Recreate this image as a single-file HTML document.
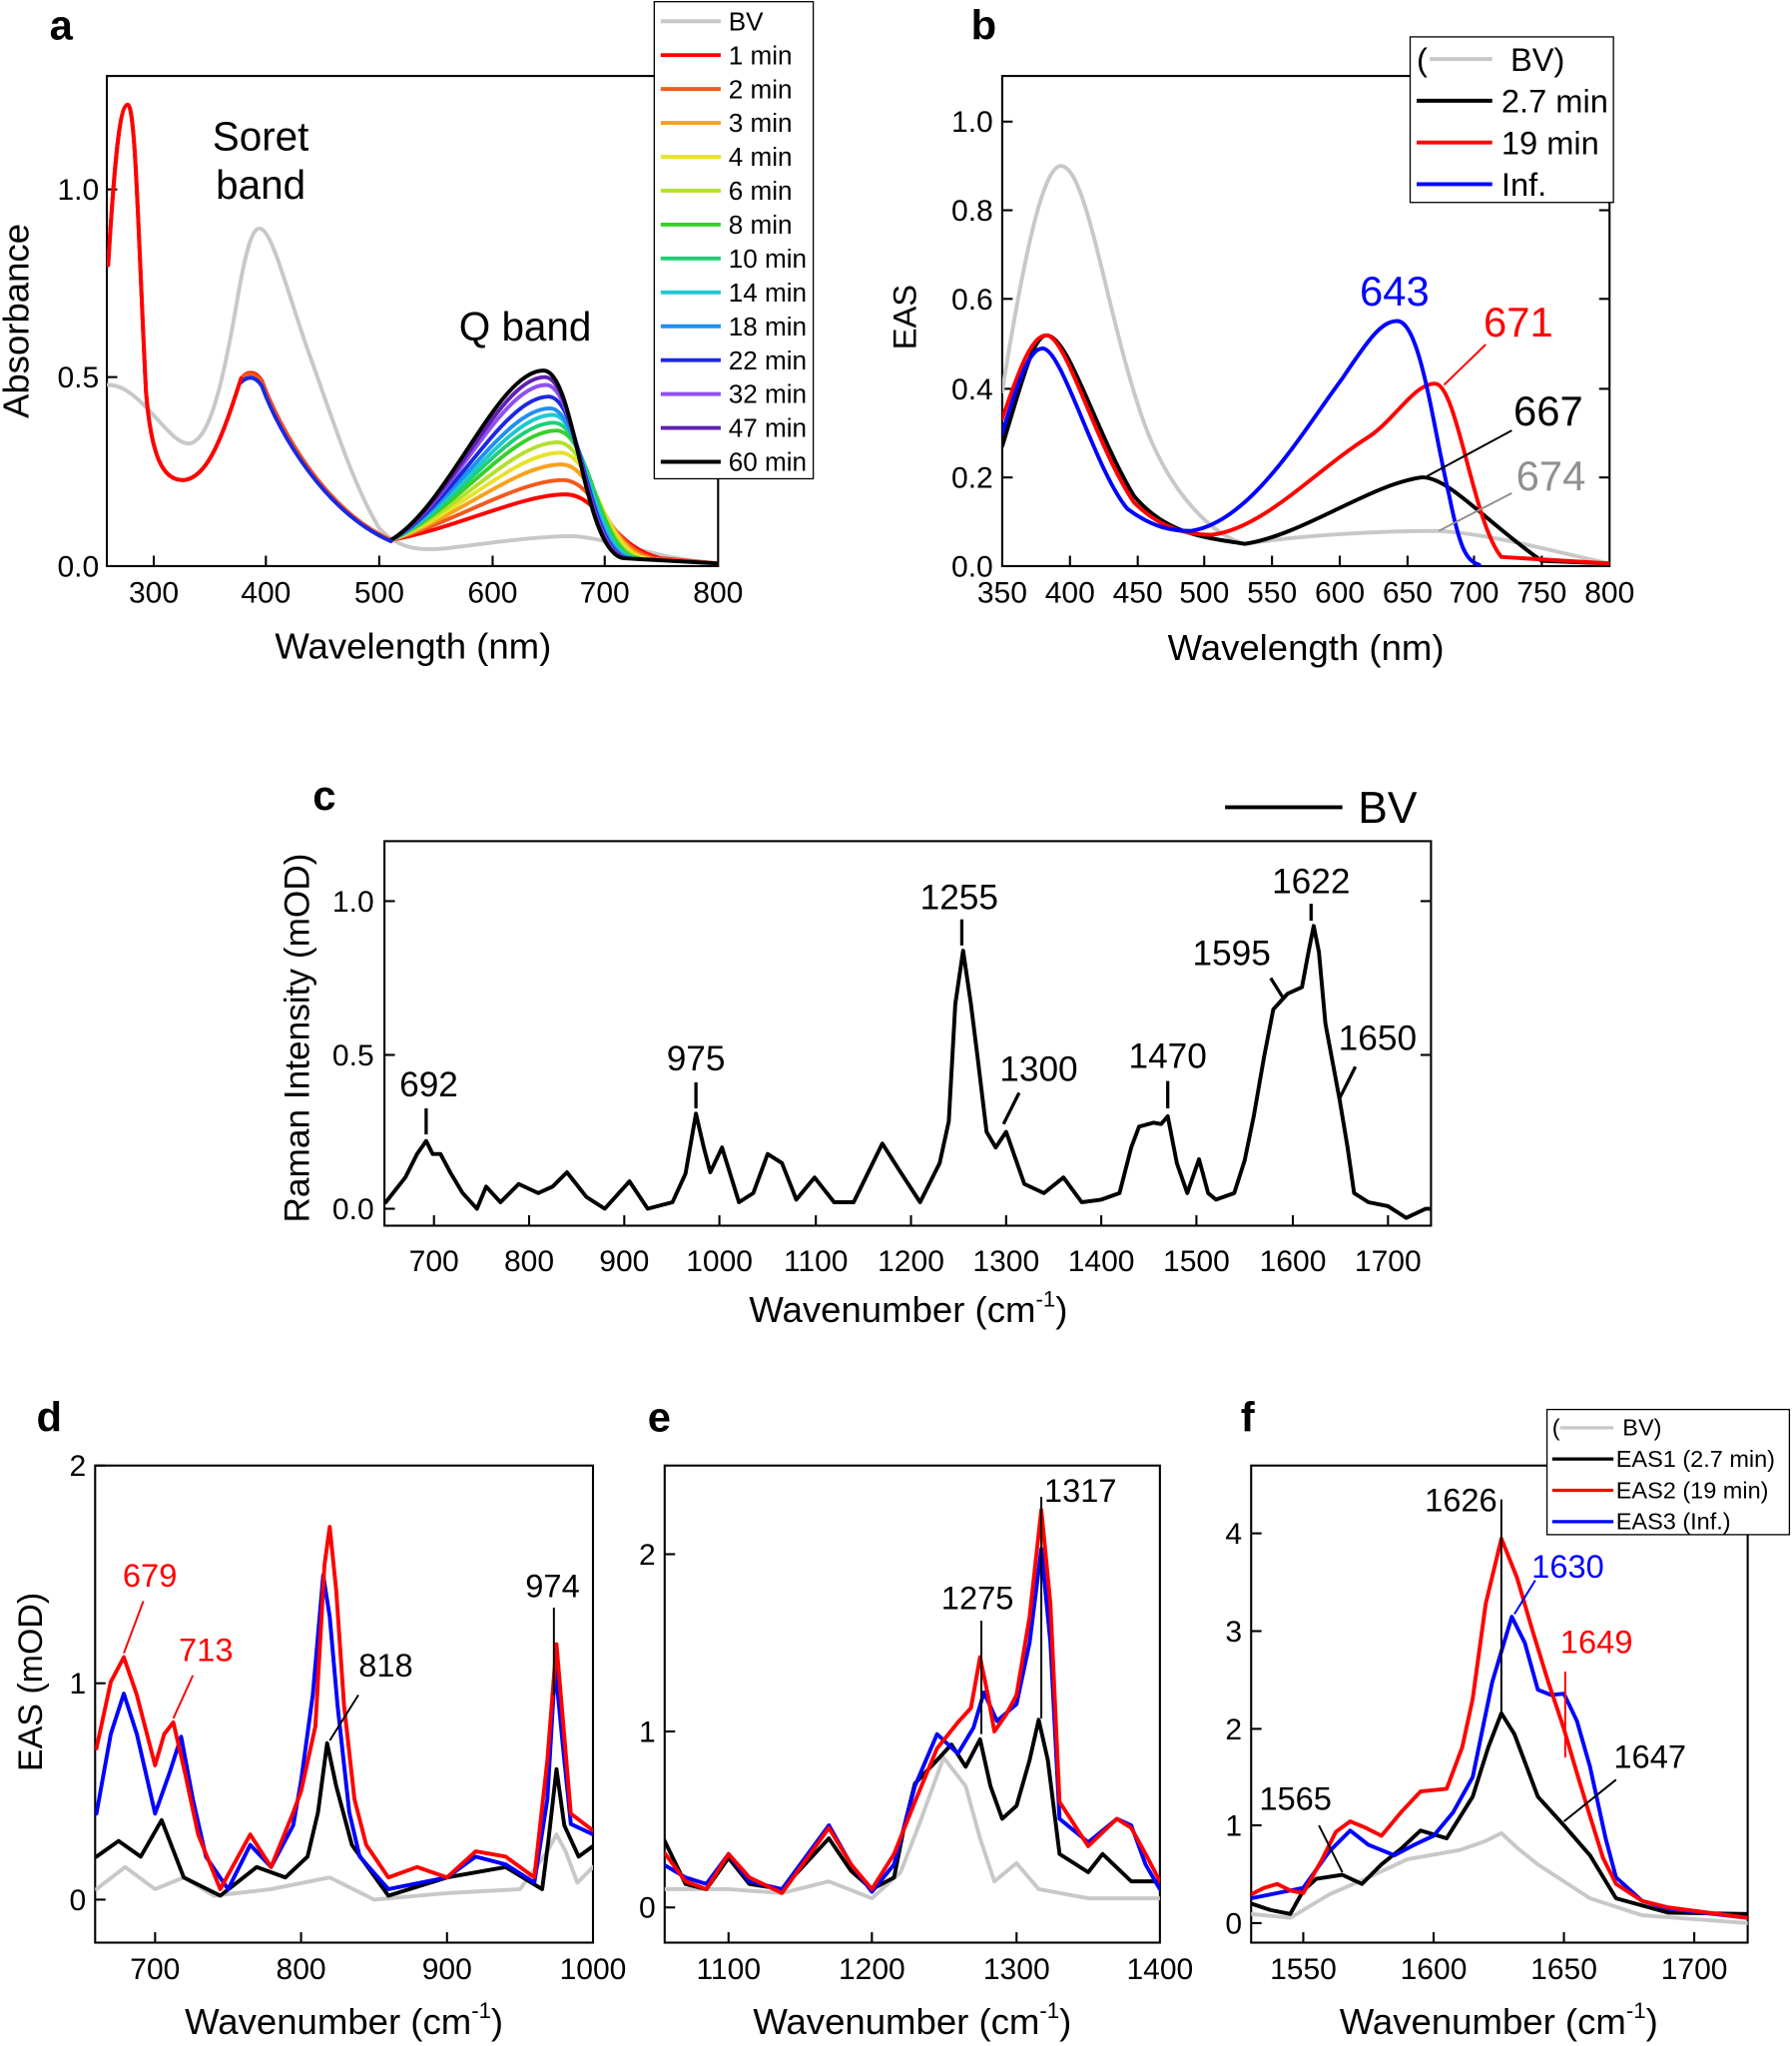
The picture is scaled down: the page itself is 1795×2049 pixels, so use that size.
<!DOCTYPE html>
<html><head><meta charset="utf-8">
<style>
html,body{margin:0;padding:0;background:#fff;}
svg{display:block;}
text{font-family:"Liberation Sans",Arial,sans-serif;}
.t{font-size:23px;fill:#000;}
.al{font-size:28px;fill:#000;}
.pl{font-size:32px;font-weight:bold;}
.ax{fill:none;stroke:#000;stroke-width:1.6;}
.c{fill:none;stroke-width:3;stroke-linejoin:round;stroke-linecap:round;}
</style></head>
<body>
<svg width="1795" height="2049" viewBox="0 0 1375 1569" xmlns="http://www.w3.org/2000/svg">
<rect width="1375" height="1569" fill="#fff"/>
<defs>
<clipPath id="ca"><rect x="82" y="58" width="469" height="376"/></clipPath>
<clipPath id="cb"><rect x="769" y="58" width="466" height="376"/></clipPath>
<clipPath id="cc"><rect x="295" y="645" width="803" height="295"/></clipPath>
<clipPath id="cd"><rect x="73" y="1124" width="382" height="366"/></clipPath>
<clipPath id="ce"><rect x="510" y="1124" width="380" height="366"/></clipPath>
<clipPath id="cf"><rect x="960" y="1124" width="381" height="366"/></clipPath>
</defs>

<!-- ===== Panel a ===== -->
<text class="pl" x="38" y="30">a</text>
<rect class="ax" x="82" y="58" width="469" height="376"/>
<g stroke="#000" stroke-width="1.6">
<line x1="118" y1="434" x2="118" y2="426"/><line x1="204" y1="434" x2="204" y2="426"/><line x1="291" y1="434" x2="291" y2="426"/><line x1="378" y1="434" x2="378" y2="426"/><line x1="464" y1="434" x2="464" y2="426"/>
<line x1="82" y1="289" x2="90" y2="289"/><line x1="82" y1="145" x2="90" y2="145"/>
</g>
<g class="t" text-anchor="middle">
<text x="118" y="462">300</text><text x="204" y="462">400</text><text x="291" y="462">500</text><text x="378" y="462">600</text><text x="464" y="462">700</text><text x="551" y="462">800</text>
</g>
<g class="t" text-anchor="end"><text x="76" y="442">0.0</text><text x="76" y="297">0.5</text><text x="76" y="153">1.0</text></g>
<text class="al" x="317" y="505" text-anchor="middle">Wavelength (nm)</text>
<text class="al" x="22" y="246" text-anchor="middle" transform="rotate(-90 22 246)">Absorbance</text>
<text x="200" y="115" text-anchor="middle" style="font-size:31px">Soret</text>
<text x="200" y="152" text-anchor="middle" style="font-size:31px">band</text>
<text x="403" y="261" text-anchor="middle" style="font-size:31px">Q band</text>
<g clip-path="url(#ca)">
<path class="c" stroke="#c8c8c8" d="M83,295 C90,295 98,298 110,310 C125,325 135,340 145,340 C160,338 170,300 182,230 C188,195 193,175 199,175 C208,175 218,215 235,265 C255,320 270,370 291,405 C305,420 320,423 345,420 C380,416 410,411 440,411 C470,413 500,428 551,432"/>
<path class="c" stroke="#ff0000" d="M83,203 C88,120 92,80 98,80 C104,80 106,180 112,300 C116,350 125,368 140,368 C160,368 172,330 185,290 C190,284 196,284 201,292 C215,330 250,392 300,414 C350,405 400,379 434,379 C460,379 470,420 507,428 L551,432"/>
<path class="c" stroke="#f25a1c" d="M185,290 C190,285 196,285 201,293 C215,331 250,392 300,414 C350,400 398,368 432,368 C458,368 467,420 502,428 L551,432"/>
<path class="c" stroke="#f7a21e" d="M300,414 C350,398 396,356 431,356 C457,356 465,422 498,428"/>
<path class="c" stroke="#e8e22a" d="M300,414 C350,396 395,347 430,347 C456,347 463,423 495,428"/>
<path class="c" stroke="#b4e02a" d="M300,414 C349,395 393,339 428,339 C454,339 461,424 492,428"/>
<path class="c" stroke="#38d028" d="M300,414 C349,393 392,330 427,330 C453,330 459,425 490,428"/>
<path class="c" stroke="#1cd078" d="M300,414 C348,392 390,324 425,324 C451,324 457,425 488,428"/>
<path class="c" stroke="#1ec8d0" d="M300,414 C348,391 389,318 424,318 C449,318 455,425 486,428"/>
<path class="c" stroke="#2090f0" d="M300,414 C347,390 387,313 422,313 C447,313 453,425 484,428"/>
<path class="c" stroke="#1c28e0" d="M300,414 C347,389 386,304 421,304 C446,304 451,425 482,428"/>
<path class="c" stroke="#9050f0" d="M300,414 C346,388 384,295 419,295 C444,295 449,425 481,428"/>
<path class="c" stroke="#6020b0" d="M300,414 C346,388 383,289 418,289 C443,289 448,425 480,428"/>
<path class="c" stroke="#000" d="M300,414 C345,387 382,284 417,284 C442,284 447,425 479,428 L551,432"/>
<path class="c" stroke="#1c28e0" d="M185,293 C190,288 196,288 201,296 C215,334 250,393 300,415"/>
<path class="c" stroke="#ff0000" d="M83,203 C88,120 92,80 98,80 C104,80 106,180 112,300 C116,350 125,368 140,368 C160,368 172,330 185,290"/>
</g>
<!-- legend a -->
<rect x="502" y="1" width="122" height="366" fill="#fff" stroke="#000" stroke-width="1"/>
<g stroke-width="3">
<line x1="507" y1="16" x2="553" y2="16" stroke="#c8c8c8"/>
<line x1="507" y1="42" x2="553" y2="42" stroke="#ff0000"/>
<line x1="507" y1="68" x2="553" y2="68" stroke="#f25a1c"/>
<line x1="507" y1="94" x2="553" y2="94" stroke="#f7a21e"/>
<line x1="507" y1="120" x2="553" y2="120" stroke="#e8e22a"/>
<line x1="507" y1="146" x2="553" y2="146" stroke="#b4e02a"/>
<line x1="507" y1="172" x2="553" y2="172" stroke="#38d028"/>
<line x1="507" y1="198" x2="553" y2="198" stroke="#1cd078"/>
<line x1="507" y1="224" x2="553" y2="224" stroke="#1ec8d0"/>
<line x1="507" y1="250" x2="553" y2="250" stroke="#2090f0"/>
<line x1="507" y1="276" x2="553" y2="276" stroke="#1c28e0"/>
<line x1="507" y1="302" x2="553" y2="302" stroke="#9050f0"/>
<line x1="507" y1="328" x2="553" y2="328" stroke="#6020b0"/>
<line x1="507" y1="354" x2="553" y2="354" stroke="#000"/>
</g>
<g style="font-size:20px">
<text x="559" y="23">BV</text><text x="559" y="49">1 min</text><text x="559" y="75">2 min</text><text x="559" y="101">3 min</text><text x="559" y="127">4 min</text><text x="559" y="153">6 min</text><text x="559" y="179">8 min</text><text x="559" y="205">10 min</text><text x="559" y="231">14 min</text><text x="559" y="257">18 min</text><text x="559" y="283">22 min</text><text x="559" y="309">32 min</text><text x="559" y="335">47 min</text><text x="559" y="361">60 min</text>
</g>

<!-- ===== Panel b ===== -->
<text class="pl" x="745" y="30">b</text>
<rect class="ax" x="769" y="58" width="466" height="376"/>
<g stroke="#000" stroke-width="1.6">
<line x1="821" y1="434" x2="821" y2="426"/><line x1="873" y1="434" x2="873" y2="426"/><line x1="924" y1="434" x2="924" y2="426"/><line x1="976" y1="434" x2="976" y2="426"/><line x1="1028" y1="434" x2="1028" y2="426"/><line x1="1080" y1="434" x2="1080" y2="426"/><line x1="1131" y1="434" x2="1131" y2="426"/><line x1="1183" y1="434" x2="1183" y2="426"/>
<line x1="769" y1="366" x2="777" y2="366"/><line x1="769" y1="298" x2="777" y2="298"/><line x1="769" y1="229" x2="777" y2="229"/><line x1="769" y1="161" x2="777" y2="161"/><line x1="769" y1="93" x2="777" y2="93"/>
<line x1="1235" y1="366" x2="1227" y2="366"/><line x1="1235" y1="298" x2="1227" y2="298"/><line x1="1235" y1="229" x2="1227" y2="229"/><line x1="1235" y1="161" x2="1227" y2="161"/>
</g>
<g class="t" text-anchor="middle">
<text x="769" y="462">350</text><text x="821" y="462">400</text><text x="873" y="462">450</text><text x="924" y="462">500</text><text x="976" y="462">550</text><text x="1028" y="462">600</text><text x="1080" y="462">650</text><text x="1131" y="462">700</text><text x="1183" y="462">750</text><text x="1235" y="462">800</text>
</g>
<g class="t" text-anchor="end"><text x="762" y="442">0.0</text><text x="762" y="374">0.2</text><text x="762" y="306">0.4</text><text x="762" y="237">0.6</text><text x="762" y="169">0.8</text><text x="762" y="101">1.0</text></g>
<text class="al" x="1002" y="506" text-anchor="middle">Wavelength (nm)</text>
<text class="al" x="703" y="243" text-anchor="middle" transform="rotate(-90 703 243)" style="font-size:25px">EAS</text>
<g clip-path="url(#cb)">
<path class="c" stroke="#c8c8c8" d="M769,300 C785,200 800,127 814,127 C835,127 850,250 880,330 C900,380 930,410 955,417 C1000,410 1060,407 1104,407 C1150,410 1200,425 1235,432"/>
<path class="c" stroke="#000" d="M769,342 C785,290 793,257 803,257 C820,257 840,330 870,380 C895,410 925,412 955,417 C1000,410 1050,372 1090,366 C1110,364 1140,400 1183,430 L1235,432"/>
<path class="c" stroke="#ff0000" d="M769,321 C783,280 792,257 803,257 C818,257 840,340 870,385 C890,405 910,410 930,410 C970,405 1010,360 1050,335 C1070,322 1085,294 1101,294 C1118,294 1130,400 1152,427 L1235,432"/>
<path class="c" stroke="#0000ff" d="M769,332 C782,290 790,267 800,267 C815,267 840,360 865,390 C885,405 900,407 914,407 C960,400 1000,330 1030,290 C1050,260 1060,246 1072,246 C1090,246 1100,330 1112,380 C1120,420 1125,430 1135,433"/>
</g>
<text x="1070" y="234" text-anchor="middle" fill="#0000ff" style="font-size:32px">643</text>
<text x="1165" y="258" text-anchor="middle" fill="#ff0000" style="font-size:32px">671</text>
<line x1="1108" y1="295" x2="1140" y2="264" stroke="#ff0000" stroke-width="1.5"/>
<text x="1188" y="326" text-anchor="middle" style="font-size:32px">667</text>
<line x1="1095" y1="365" x2="1160" y2="330" stroke="#000" stroke-width="1.5"/>
<text x="1190" y="376" text-anchor="middle" fill="#909090" style="font-size:32px">674</text>
<line x1="1104" y1="407" x2="1160" y2="378" stroke="#909090" stroke-width="1.5"/>
<rect x="1082" y="28" width="156" height="127" fill="#fff" stroke="#000" stroke-width="1"/>
<g stroke-width="3">
<line x1="1097" y1="45" x2="1145" y2="45" stroke="#c8c8c8"/>
<line x1="1087" y1="77" x2="1145" y2="77" stroke="#000"/>
<line x1="1087" y1="109" x2="1145" y2="109" stroke="#ff0000"/>
<line x1="1087" y1="141" x2="1145" y2="141" stroke="#0000ff"/>
</g>
<g style="font-size:25px"><text x="1087" y="54">(</text><text x="1159" y="54">BV)</text><text x="1152" y="86">2.7 min</text><text x="1152" y="118">19 min</text><text x="1152" y="150">Inf.</text></g>

<!-- ===== Panel c ===== -->
<text class="pl" x="240" y="621">c</text>
<line x1="940" y1="619" x2="1030" y2="619" stroke="#000" stroke-width="3"/>
<text x="1042" y="631" style="font-size:34px">BV</text>
<rect class="ax" x="295" y="645" width="803" height="295"/>
<g stroke="#000" stroke-width="1.6">
<line x1="333" y1="940" x2="333" y2="932"/><line x1="406" y1="940" x2="406" y2="932"/><line x1="479" y1="940" x2="479" y2="932"/><line x1="552" y1="940" x2="552" y2="932"/><line x1="626" y1="940" x2="626" y2="932"/><line x1="699" y1="940" x2="699" y2="932"/><line x1="772" y1="940" x2="772" y2="932"/><line x1="845" y1="940" x2="845" y2="932"/><line x1="918" y1="940" x2="918" y2="932"/><line x1="992" y1="940" x2="992" y2="932"/><line x1="1065" y1="940" x2="1065" y2="932"/>
<line x1="295" y1="927" x2="303" y2="927"/><line x1="295" y1="809" x2="303" y2="809"/><line x1="295" y1="691" x2="303" y2="691"/>
<line x1="1098" y1="809" x2="1090" y2="809"/><line x1="1098" y1="691" x2="1090" y2="691"/>
</g>
<g class="t" text-anchor="middle">
<text x="333" y="975">700</text><text x="406" y="975">800</text><text x="479" y="975">900</text><text x="552" y="975">1000</text><text x="626" y="975">1100</text><text x="699" y="975">1200</text><text x="772" y="975">1300</text><text x="845" y="975">1400</text><text x="918" y="975">1500</text><text x="992" y="975">1600</text><text x="1065" y="975">1700</text>
</g>
<g class="t" text-anchor="end"><text x="287" y="935">0.0</text><text x="287" y="817">0.5</text><text x="287" y="699">1.0</text></g>
<text class="al" x="697" y="1014" text-anchor="middle">Wavenumber (cm<tspan dy="-12" style="font-size:17px">-1</tspan><tspan dy="12">)</tspan></text>
<text class="al" x="237" y="796" text-anchor="middle" transform="rotate(-90 237 796)" style="font-size:27px">Raman Intensity (mOD)</text>
<g clip-path="url(#cc)">
<path class="c" stroke="#000" stroke-width="2.6" d="M296,922 L311,903 L320,885 L327,875 L332,885 L338,885 L346,900 L355,915 L366,927 L373,910 L384,922 L398,908 L413,915 L424,910 L435,899 L450,918 L464,927 L483,906 L497,927 L516,922 L526,900 L534,854 L540,880 L545,899 L554,880 L567,922 L578,915 L589,885 L600,892 L611,920 L625,903 L640,922 L655,922 L677,877 L691,899 L706,922 L721,892 L728,860 L733,770 L739,729 L745,770 L750,810 L757,868 L764,880 L772,868 L786,908 L801,915 L816,903 L830,922 L845,920 L859,915 L868,880 L874,864 L885,861 L891,862 L896,856 L903,892 L911,915 L920,889 L927,915 L933,920 L947,915 L955,890 L962,856 L970,810 L977,774 L988,762 L999,757 L1004,730 L1008,710 L1012,730 L1017,785 L1028,844 L1034,880 L1039,915 L1050,922 L1065,925 L1079,934 L1094,927 L1101,927"/>
</g>
<g style="font-size:27px" text-anchor="middle">
<text x="329" y="841">692</text><text x="534" y="821">975</text><text x="736" y="697">1255</text><text x="797" y="829">1300</text><text x="896" y="819">1470</text><text x="945" y="740">1595</text><text x="1006" y="685">1622</text><text x="1057" y="805">1650</text>
</g>
<g stroke="#000" stroke-width="2.5">
<line x1="327" y1="850" x2="327" y2="870"/><line x1="534" y1="830" x2="534" y2="850"/><line x1="738" y1="705" x2="738" y2="725"/><line x1="1006" y1="693" x2="1006" y2="706"/><line x1="896" y1="829" x2="896" y2="850"/>
<line x1="770" y1="862" x2="782" y2="838"/><line x1="985" y1="766" x2="975" y2="750"/><line x1="1028" y1="842" x2="1040" y2="818"/>
</g>

<!-- ===== Panel d ===== -->
<text class="pl" x="28" y="1098">d</text>
<rect class="ax" x="73" y="1124" width="382" height="366"/>
<g stroke="#000" stroke-width="1.6">
<line x1="119" y1="1490" x2="119" y2="1482"/><line x1="231" y1="1490" x2="231" y2="1482"/><line x1="343" y1="1490" x2="343" y2="1482"/>
<line x1="73" y1="1457" x2="81" y2="1457"/><line x1="73" y1="1291" x2="81" y2="1291"/><line x1="73" y1="1124" x2="81" y2="1124"/>
</g>
<g class="t" text-anchor="middle"><text x="119" y="1518">700</text><text x="231" y="1518">800</text><text x="343" y="1518">900</text><text x="455" y="1518">1000</text></g>
<g class="t" text-anchor="end"><text x="66" y="1465">0</text><text x="66" y="1299">1</text><text x="66" y="1132">2</text></g>
<text class="al" x="264" y="1560" text-anchor="middle">Wavenumber (cm<tspan dy="-12" style="font-size:17px">-1</tspan><tspan dy="12">)</tspan></text>
<text class="al" x="32" y="1290" text-anchor="middle" transform="rotate(-90 32 1290)" style="font-size:26px">EAS (mOD)</text>
<g clip-path="url(#cd)">
<path class="c" stroke="#c8c8c8" d="M74,1449 L96,1432 L119,1449 L141,1440 L164,1454 L208,1449 L253,1440 L287,1457 L343,1452 L399,1449 L420,1420 L427,1407 L434,1420 L443,1444 L455,1432"/>
<path class="c" stroke="#000" d="M74,1424 L91,1412 L108,1424 L124,1396 L141,1440 L169,1454 L197,1432 L219,1440 L236,1424 L244,1390 L251,1337 L258,1370 L270,1415 L298,1454 L343,1440 L388,1432 L416,1449 L421,1410 L427,1357 L433,1400 L444,1424 L455,1416"/>
<path class="c" stroke="#0000ff" d="M74,1391 L85,1330 L95,1299 L105,1330 L119,1391 L130,1360 L139,1332 L148,1380 L158,1424 L175,1449 L192,1415 L208,1432 L225,1400 L231,1366 L240,1300 L248,1208 L253,1240 L259,1308 L268,1390 L276,1424 L298,1449 L343,1440 L365,1424 L388,1430 L410,1444 L420,1380 L426,1278 L432,1340 L438,1399 L455,1407"/>
<path class="c" stroke="#ff0000" d="M74,1341 L85,1290 L95,1271 L105,1300 L119,1354 L126,1330 L133,1321 L142,1360 L152,1407 L169,1449 L192,1407 L208,1432 L225,1390 L231,1374 L242,1324 L249,1200 L253,1171 L258,1220 L264,1308 L272,1380 L281,1415 L298,1440 L320,1432 L343,1440 L365,1420 L388,1424 L410,1440 L420,1350 L427,1261 L432,1320 L438,1391 L455,1404"/>
</g>
<text x="115" y="1217" text-anchor="middle" fill="#ff0000" style="font-size:25px">679</text>
<line x1="95" y1="1268" x2="110" y2="1228" stroke="#ff0000" stroke-width="1.5"/>
<text x="158" y="1274" text-anchor="middle" fill="#ff0000" style="font-size:25px">713</text>
<line x1="133" y1="1318" x2="148" y2="1285" stroke="#ff0000" stroke-width="1.5"/>
<text x="296" y="1286" text-anchor="middle" style="font-size:25px">818</text>
<line x1="253" y1="1335" x2="275" y2="1300" stroke="#000" stroke-width="1.5"/>
<text x="424" y="1225" text-anchor="middle" style="font-size:25px">974</text>
<line x1="425" y1="1233" x2="425" y2="1300" stroke="#000" stroke-width="1.5"/>

<!-- ===== Panel e ===== -->
<text class="pl" x="497" y="1098">e</text>
<rect class="ax" x="510" y="1124" width="380" height="366"/>
<g stroke="#000" stroke-width="1.6">
<line x1="559" y1="1490" x2="559" y2="1482"/><line x1="669" y1="1490" x2="669" y2="1482"/><line x1="780" y1="1490" x2="780" y2="1482"/>
<line x1="510" y1="1463" x2="518" y2="1463"/><line x1="510" y1="1328" x2="518" y2="1328"/><line x1="510" y1="1192" x2="518" y2="1192"/>
</g>
<g class="t" text-anchor="middle"><text x="559" y="1518">1100</text><text x="669" y="1518">1200</text><text x="780" y="1518">1300</text><text x="890" y="1518">1400</text></g>
<g class="t" text-anchor="end"><text x="503" y="1471">0</text><text x="503" y="1336">1</text><text x="503" y="1200">2</text></g>
<text class="al" x="700" y="1560" text-anchor="middle">Wavenumber (cm<tspan dy="-12" style="font-size:17px">-1</tspan><tspan dy="12">)</tspan></text>
<g clip-path="url(#ce)">
<path class="c" stroke="#c8c8c8" d="M509,1449 L559,1449 L600,1452 L636,1443 L669,1456 L691,1436 L705,1400 L724,1348 L741,1370 L752,1410 L763,1443 L780,1429 L797,1449 L835,1456 L890,1456"/>
<path class="c" stroke="#000" d="M509,1410 L526,1445 L542,1449 L559,1425 L575,1445 L600,1449 L636,1410 L653,1435 L669,1449 L686,1440 L694,1400 L702,1368 L719,1350 L730,1338 L741,1355 L752,1334 L760,1370 L769,1395 L780,1385 L790,1350 L797,1319 L804,1350 L813,1422 L835,1436 L846,1422 L868,1443 L890,1443"/>
<path class="c" stroke="#0000ff" d="M509,1430 L526,1440 L542,1445 L559,1422 L575,1443 L600,1449 L636,1400 L653,1430 L669,1451 L686,1430 L702,1370 L719,1330 L735,1345 L747,1325 L755,1298 L765,1320 L780,1307 L790,1260 L799,1188 L806,1260 L813,1395 L835,1413 L857,1395 L868,1400 L879,1430 L890,1449"/>
<path class="c" stroke="#ff0000" d="M509,1420 L526,1443 L542,1449 L559,1422 L575,1440 L600,1452 L636,1402 L653,1430 L669,1449 L686,1422 L702,1382 L719,1341 L735,1321 L745,1310 L752,1271 L758,1300 L763,1328 L772,1315 L780,1300 L790,1240 L799,1158 L806,1230 L813,1382 L835,1416 L857,1395 L868,1402 L879,1422 L890,1443"/>
</g>
<text x="750" y="1234" text-anchor="middle" style="font-size:25px">1275</text>
<line x1="753" y1="1243" x2="753" y2="1330" stroke="#000" stroke-width="1.5"/>
<text x="829" y="1152" text-anchor="middle" style="font-size:25px">1317</text>
<line x1="799" y1="1148" x2="799" y2="1318" stroke="#000" stroke-width="1.5"/>

<!-- ===== Panel f ===== -->
<text class="pl" x="952" y="1098">f</text>
<rect class="ax" x="960" y="1124" width="381" height="366"/>
<g stroke="#000" stroke-width="1.6">
<line x1="1000" y1="1490" x2="1000" y2="1482"/><line x1="1100" y1="1490" x2="1100" y2="1482"/><line x1="1200" y1="1490" x2="1200" y2="1482"/><line x1="1300" y1="1490" x2="1300" y2="1482"/>
<line x1="960" y1="1475" x2="968" y2="1475"/><line x1="960" y1="1400" x2="968" y2="1400"/><line x1="960" y1="1326" x2="968" y2="1326"/><line x1="960" y1="1251" x2="968" y2="1251"/><line x1="960" y1="1176" x2="968" y2="1176"/>
</g>
<g class="t" text-anchor="middle"><text x="1000" y="1518">1550</text><text x="1100" y="1518">1600</text><text x="1200" y="1518">1650</text><text x="1300" y="1518">1700</text></g>
<g class="t" text-anchor="end"><text x="953" y="1483">0</text><text x="953" y="1408">1</text><text x="953" y="1334">2</text><text x="953" y="1259">3</text><text x="953" y="1184">4</text></g>
<text class="al" x="1150" y="1560" text-anchor="middle">Wavenumber (cm<tspan dy="-12" style="font-size:17px">-1</tspan><tspan dy="12">)</tspan></text>
<g clip-path="url(#cf)">
<path class="c" stroke="#c8c8c8" d="M960,1468 L990,1471 L1020,1453 L1050,1440 L1080,1426 L1120,1419 L1140,1412 L1152,1406 L1165,1418 L1180,1430 L1220,1456 L1260,1469 L1341,1475"/>
<path class="c" stroke="#000" d="M960,1460 L975,1465 L990,1468 L1000,1450 L1010,1441 L1030,1438 L1045,1445 L1060,1430 L1075,1418 L1090,1404 L1110,1410 L1130,1378 L1142,1340 L1152,1314 L1162,1330 L1180,1378 L1200,1400 L1220,1423 L1240,1456 L1280,1467 L1341,1468"/>
<path class="c" stroke="#0000ff" d="M960,1456 L980,1452 L1000,1448 L1020,1420 L1036,1404 L1050,1415 L1070,1423 L1085,1415 L1100,1408 L1115,1390 L1130,1363 L1145,1290 L1160,1240 L1170,1260 L1180,1296 L1190,1300 L1200,1299 L1210,1320 L1220,1355 L1232,1410 L1240,1440 L1260,1458 L1280,1464 L1341,1471"/>
<path class="c" stroke="#ff0000" d="M960,1453 L970,1448 L980,1445 L990,1450 L1000,1452 L1015,1425 L1025,1405 L1036,1397 L1048,1402 L1060,1408 L1075,1390 L1090,1374 L1110,1372 L1122,1340 L1130,1303 L1140,1230 L1152,1180 L1164,1210 L1176,1251 L1188,1290 L1200,1326 L1210,1360 L1220,1393 L1230,1425 L1240,1445 L1260,1458 L1280,1463 L1341,1471"/>
</g>
<text x="1121" y="1159" text-anchor="middle" style="font-size:25px">1626</text>
<line x1="1152" y1="1150" x2="1152" y2="1315" stroke="#000" stroke-width="1.5"/>
<text x="1203" y="1210" text-anchor="middle" fill="#0000ff" style="font-size:25px">1630</text>
<line x1="1162" y1="1238" x2="1178" y2="1212" stroke="#0000ff" stroke-width="1.5"/>
<text x="1225" y="1268" text-anchor="middle" fill="#ff0000" style="font-size:25px">1649</text>
<line x1="1201" y1="1282" x2="1201" y2="1348" stroke="#ff0000" stroke-width="1.5"/>
<text x="1266" y="1356" text-anchor="middle" style="font-size:25px">1647</text>
<line x1="1200" y1="1397" x2="1240" y2="1365" stroke="#000" stroke-width="1.5"/>
<text x="994" y="1388" text-anchor="middle" style="font-size:25px">1565</text>
<line x1="1030" y1="1436" x2="1012" y2="1400" stroke="#000" stroke-width="1.5"/>
<rect x="1187" y="1081" width="186" height="96" fill="#fff" stroke="#000" stroke-width="1"/>
<g stroke-width="2.5">
<line x1="1197" y1="1095" x2="1238" y2="1095" stroke="#c8c8c8"/>
<line x1="1191" y1="1119" x2="1238" y2="1119" stroke="#000"/>
<line x1="1191" y1="1143" x2="1238" y2="1143" stroke="#ff0000"/>
<line x1="1191" y1="1167" x2="1238" y2="1167" stroke="#0000ff"/>
</g>
<g style="font-size:18px"><text x="1191" y="1101">(</text><text x="1245" y="1101">BV)</text><text x="1240" y="1125">EAS1 (2.7 min)</text><text x="1240" y="1149">EAS2 (19 min)</text><text x="1240" y="1173">EAS3 (Inf.)</text></g>
</svg>
</body></html>
